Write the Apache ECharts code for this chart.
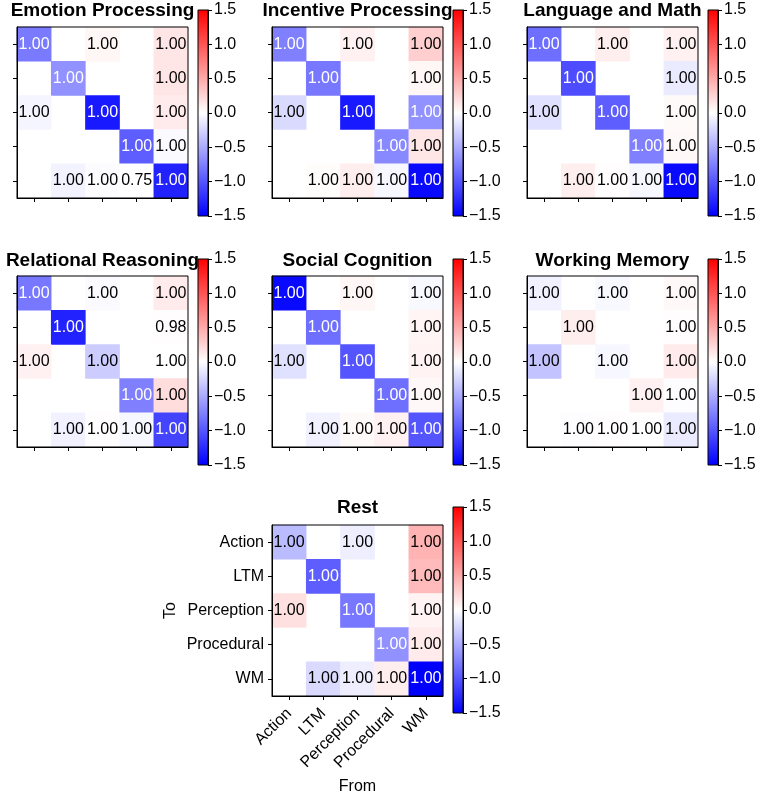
<!DOCTYPE html>
<html>
<head>
<meta charset="utf-8">
<script src="https://cdn.jsdelivr.net/npm/echarts@6/dist/echarts.min.js"></script>
<style>
html,body{margin:0;padding:0;background:#fff;}
#chart{width:765px;height:796px;}
</style>
</head>
<body>
<div id="chart"></div>
<script>
// ---------- data ----------
const categories = ['Action', 'LTM', 'Perception', 'Procedural', 'WM'];
const panelTitles = ['Emotion Processing', 'Incentive Processing', 'Language and Math',
  'Relational Reasoning', 'Social Cognition', 'Working Memory', 'Rest'];
const colorbarRange = [-1.5, 1.5];
const colorbarTicks = 0.5;

// colour values, rows = To, columns = From (null = not drawn)
const emotionValues = [
  [-0.78, null, 0.05, null, 0.15],
  [null, -0.65, null, null, 0.15],
  [-0.06, null, -1.35, null, 0.12],
  [null, null, null, -0.95, -0.03],
  [null, -0.07, -0.02, 0.00, -1.30]
];
const incentiveValues = [
  [-0.75, null, 0.08, null, 0.28],
  [null, -0.80, null, null, 0.05],
  [-0.22, null, -1.35, null, -0.65],
  [null, null, null, -0.70, 0.15],
  [null, 0.02, 0.10, -0.05, -1.45]
];
const languageValues = [
  [-0.85, null, 0.10, null, 0.08],
  [null, -1.05, null, null, -0.12],
  [-0.18, null, -0.95, null, 0.03],
  [null, null, null, -0.75, 0.04],
  [null, 0.10, 0.01, -0.05, -1.45]
];
const relationalValues = [
  [-0.80, null, -0.03, null, 0.12],
  [null, -1.30, null, null, 0.01],
  [0.08, null, -0.30, null, 0.00],
  [null, null, null, -0.75, 0.20],
  [null, -0.08, 0.01, -0.05, -1.10]
];
const socialValues = [
  [-1.45, null, 0.05, null, -0.04],
  [null, -0.85, null, null, 0.06],
  [-0.18, null, -1.00, null, 0.07],
  [null, null, null, -0.85, 0.04],
  [null, -0.08, 0.03, 0.08, -1.00]
];
const workingMemoryValues = [
  [-0.08, null, -0.04, null, 0.04],
  [null, 0.10, null, null, 0.01],
  [-0.35, null, -0.05, null, 0.12],
  [null, null, null, 0.08, -0.01],
  [null, -0.01, 0.01, 0.00, -0.12]
];
const restValues = [
  [-0.40, null, -0.10, null, 0.45],
  [null, -0.95, null, null, 0.40],
  [0.18, null, -0.80, null, 0.07],
  [null, null, null, -0.65, 0.12],
  [null, -0.22, -0.10, 0.10, -1.50]
];

// annotation numbers written in the cells
const emotionAnnot = [
  [1.00, null, 1.00, null, 1.00],
  [null, 1.00, null, null, 1.00],
  [1.00, null, 1.00, null, 1.00],
  [null, null, null, 1.00, 1.00],
  [null, 1.00, 1.00, 0.75, 1.00]
];
const incentiveAnnot = [
  [1.00, null, 1.00, null, 1.00],
  [null, 1.00, null, null, 1.00],
  [1.00, null, 1.00, null, 1.00],
  [null, null, null, 1.00, 1.00],
  [null, 1.00, 1.00, 1.00, 1.00]
];
const languageAnnot = [
  [1.00, null, 1.00, null, 1.00],
  [null, 1.00, null, null, 1.00],
  [1.00, null, 1.00, null, 1.00],
  [null, null, null, 1.00, 1.00],
  [null, 1.00, 1.00, 1.00, 1.00]
];
const relationalAnnot = [
  [1.00, null, 1.00, null, 1.00],
  [null, 1.00, null, null, 0.98],
  [1.00, null, 1.00, null, 1.00],
  [null, null, null, 1.00, 1.00],
  [null, 1.00, 1.00, 1.00, 1.00]
];
const socialAnnot = [
  [1.00, null, 1.00, null, 1.00],
  [null, 1.00, null, null, 1.00],
  [1.00, null, 1.00, null, 1.00],
  [null, null, null, 1.00, 1.00],
  [null, 1.00, 1.00, 1.00, 1.00]
];
const workingMemoryAnnot = [
  [1.00, null, 1.00, null, 1.00],
  [null, 1.00, null, null, 1.00],
  [1.00, null, 1.00, null, 1.00],
  [null, null, null, 1.00, 1.00],
  [null, 1.00, 1.00, 1.00, 1.00]
];
const restAnnot = [
  [1.00, null, 1.00, null, 1.00],
  [null, 1.00, null, null, 1.00],
  [1.00, null, 1.00, null, 1.00],
  [null, null, null, 1.00, 1.00],
  [null, 1.00, 1.00, 1.00, 1.00]
];

const allValues = [emotionValues, incentiveValues, languageValues, relationalValues,
  socialValues, workingMemoryValues, restValues];
const allAnnot = [emotionAnnot, incentiveAnnot, languageAnnot, relationalAnnot,
  socialAnnot, workingMemoryAnnot, restAnnot];

// ---------- layout ----------
const FONT = 'Liberation Sans';
const colLefts = [17, 272, 527];
const rowTops = [27, 276, 525];
const cbTops = [10, 259, 507];
const titleTops = [1, 251, 498];
const SIZE = 171;
const panelPos = [[0,0],[0,1],[0,2],[1,0],[1,1],[1,2],[2,1]];

const grids = [], xAxes = [], yAxes = [], series = [], titles = [];
const heatIdx = [];

panelPos.forEach(([r, c], i) => {
  const isRest = i === 6;
  grids.push({left: colLefts[c], top: rowTops[r], width: SIZE, height: SIZE, z: 5,
    show: true, borderColor: '#000', borderWidth: 1, backgroundColor: 'transparent'});
  xAxes.push({
    type: 'category', data: categories, gridIndex: i, position: 'bottom', z: 5,
    axisLine: {show: true, lineStyle: {color: '#000', width: 1}},
    axisTick: {show: true, alignWithLabel: true, length: 4, lineStyle: {color: '#000'}},
    axisLabel: {show: isRest, rotate: 45, margin: 15, fontSize: 16, color: '#000', fontFamily: FONT, interval: 0},
    splitLine: {show: false},
    name: isRest ? 'From' : '', nameLocation: 'middle', nameGap: 83,
    nameTextStyle: {fontSize: 16, color: '#000', fontFamily: FONT}
  });
  yAxes.push({
    type: 'category', data: categories, gridIndex: i, inverse: true, position: 'left', z: 5,
    axisLine: {show: true, lineStyle: {color: '#000', width: 1}},
    axisTick: {show: true, alignWithLabel: true, length: 4, lineStyle: {color: '#000'}},
    axisLabel: {show: isRest, margin: 8, fontSize: 16, color: '#000', fontFamily: FONT, interval: 0},
    splitLine: {show: false},
    name: isRest ? 'To' : '', nameLocation: 'middle', nameGap: 93, nameRotate: 90,
    nameTextStyle: {fontSize: 16, color: '#000', fontFamily: FONT}
  });
  titles.push({
    text: panelTitles[i], left: colLefts[c] + SIZE / 2, top: titleTops[r], textAlign: 'center',
    padding: 0, z: 1,
    textStyle: {fontSize: 19, fontWeight: 'bold', color: '#000', fontFamily: FONT}
  });
  const vals = allValues[i], ann = allAnnot[i];
  const data = [];
  vals.forEach((row, ri) => row.forEach((v, ci) => {
    if (v === null) return;
    data.push({value: [ci, ri, v], label: {color: v <= -0.5 ? '#fff' : '#000'}});
  }));
  heatIdx.push(series.length);
  series.push({
    type: 'heatmap', xAxisIndex: i, yAxisIndex: i, data: data, z: 2,
    label: {show: true, fontSize: 16, fontFamily: FONT,
      formatter: p => ann[p.value[1]][p.value[0]].toFixed(2)},
    itemStyle: {borderWidth: 0},
    emphasis: {disabled: true}
  });
});

// colorbars
panelPos.forEach(([r, c], k) => {
  const gi = 7 + k;
  grids.push({left: colLefts[c] + SIZE + 10, top: cbTops[r], width: 10, height: 206, z: 5,
    show: true, borderColor: '#000', borderWidth: 1, backgroundColor: 'transparent'});
  xAxes.push({type: 'category', data: [''], gridIndex: gi, show: false});
  yAxes.push({
    type: 'value', gridIndex: gi, min: colorbarRange[0], max: colorbarRange[1], interval: colorbarTicks,
    position: 'right', z: 5,
    axisLine: {show: true, lineStyle: {color: '#000', width: 1}},
    axisTick: {show: true, length: 4, lineStyle: {color: '#000'}},
    axisLabel: {show: true, margin: 6, fontSize: 16, color: '#000', fontFamily: FONT,
      formatter: v => v.toFixed(1).replace('-', '\u2212')},
    splitLine: {show: false}
  });
  series.push({
    type: 'bar', xAxisIndex: gi, yAxisIndex: gi, data: [colorbarRange[1]], z: 3,
    barWidth: '100%', barGap: '-100%', silent: true,
    itemStyle: {color: new echarts.graphic.LinearGradient(0, 0, 0, 1,
      [{offset: 0, color: '#ff0000'}, {offset: 1, color: '#ffffff'}])}
  });
  series.push({
    type: 'bar', xAxisIndex: gi, yAxisIndex: gi, data: [colorbarRange[0]], z: 3,
    barWidth: '100%', barGap: '-100%', silent: true,
    itemStyle: {color: new echarts.graphic.LinearGradient(0, 0, 0, 1,
      [{offset: 0, color: '#ffffff'}, {offset: 1, color: '#0000ff'}])}
  });
});

const chart = echarts.init(document.getElementById('chart'), null, {renderer: 'canvas'});
chart.setOption({
  animation: false,
  backgroundColor: '#fff',
  title: titles,
  grid: grids,
  xAxis: xAxes,
  yAxis: yAxes,
  visualMap: {
    type: 'continuous', show: false, min: colorbarRange[0], max: colorbarRange[1],
    dimension: 2, seriesIndex: heatIdx,
    inRange: {color: ['#0000ff', '#ffffff', '#ff0000']}
  },
  series: series
});
</script>
</body>
</html>
